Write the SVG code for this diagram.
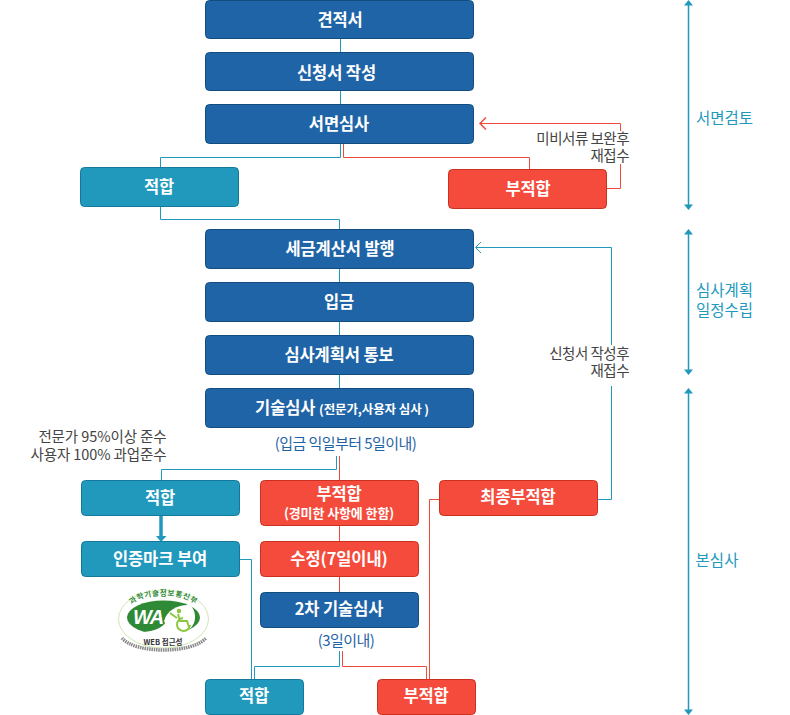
<svg xmlns="http://www.w3.org/2000/svg" width="790" height="715" viewBox="0 0 790 715">
<style>
text{font-family:"Noto Sans CJK KR","Noto Sans",sans-serif}
.b{fill:#1f64a6;stroke:#134d80}
.t{fill:#2199bc;stroke:#14789a}
.r{fill:#f54b3c;stroke:#c9301f}
.l{font-size:16.500px;font-weight:700;fill:#fff;text-anchor:middle;letter-spacing:-.1px}
.s{font-size:13px;font-weight:700;fill:#fff;text-anchor:middle;letter-spacing:-.1px}
.n{font-size:14.500px;fill:#444;text-anchor:end;letter-spacing:-.5px}
.d{font-size:15px;fill:#1f64a6;text-anchor:middle;letter-spacing:-.55px}
.p{font-size:15.500px;fill:#2199bc;text-anchor:middle}
.ct{fill:none;stroke:#2199bc;stroke-width:1}
.cr{fill:none;stroke:#f04b3c;stroke-width:1}
.sp{fill:none;stroke:#2199bc;stroke-width:1.5}
.hd{fill:#2199bc}
</style>
<g id="connectors">
<path class="ct" d="M340.500 38V52M340.500 91V104M340.500 143V157.500H160.500V167M160.500 206V219.500H339.500V229M339.500 268V282M339.500 321V335M339.500 374V388M336.500 456V469.500H161.500V480M240 559.500H251.500V679M339.500 651V666.500H254.500V679M597 499.500H611.500V386M611.500 345V247.500H476"/>
<path class="ct" d="M481 242L475.500 247.500L481 253" stroke-width="1.200"/>
<path class="cr" d="M343.500 143V157.500H529.500V169M606 188.500H620.500V164M620.500 131V123.500H480M339.500 456V480M339.500 525V541M339.500 576V592M342.500 651V666.500H426.500V679M429.500 679V499.500H439"/>
<path class="cr" d="M486 117.500L480 123.500L486 129.500" style="stroke-width:1.500"/>
<path d="M161 515V537" stroke="#2199bc" stroke-width="3.500" fill="none"/>
<path class="hd" d="M156 536H166.500L161 542Z"/>
<path class="sp" d="M688.500 3V207M688.500 232V372M688.500 391V712"/>
<path class="hd" d="M684 5.500H693L688.500 0ZM684 204.500H693L688.500 210ZM684 234.500H693L688.500 229ZM684 369.500H693L688.500 375ZM684 393.500H693L688.500 388ZM684 709.500H693L688.500 715Z"/>
</g>
<g id="n1"><rect class="b" x="205.500" y="0.500" width="268" height="38" rx="4"/><text class="l" x="340" y="26">견적서</text></g>
<g id="n2"><rect class="b" x="205.500" y="52.500" width="268" height="38" rx="4"/><text class="l" x="336.500" y="79">신청서 작성</text></g>
<g id="n3"><rect class="b" x="205.500" y="104.500" width="268" height="39" rx="4"/><text class="l" x="339" y="130">서면심사</text></g>
<g id="n4"><rect class="t" x="80.500" y="167.500" width="158" height="39" rx="4"/><text class="l" x="159" y="193">적합</text></g>
<g id="n5"><rect class="r" x="448.500" y="169.500" width="158" height="39" rx="4"/><text class="l" x="528" y="195">부적합</text></g>
<g id="n6"><rect class="b" x="205.500" y="229.500" width="268" height="39" rx="4"/><text class="l" x="340" y="255">세금계산서 발행</text></g>
<g id="n7"><rect class="b" x="205.500" y="282.500" width="268" height="39" rx="4"/><text class="l" x="339" y="308">입금</text></g>
<g id="n8"><rect class="b" x="205.500" y="335.500" width="268" height="39" rx="4"/><text class="l" x="339" y="361">심사계획서 통보</text></g>
<g id="n9"><rect class="b" x="205.500" y="388.500" width="268" height="39" rx="4"/><text class="l" x="342" y="414">기술심사 <tspan style="font-size:12.500px">(전문가,사용자 심사 )</tspan></text></g>
<g id="n10"><rect class="t" x="81.500" y="480.500" width="158" height="35" rx="4"/><text class="l" x="160" y="504">적합</text></g>
<g id="n11"><rect class="r" x="260.500" y="480.500" width="158" height="45" rx="4"/><text class="l" x="339" y="500">부적합</text><text class="s" x="339" y="518">(경미한 사항에 한함)</text></g>
<g id="n12"><rect class="r" x="439.500" y="480.500" width="158" height="35" rx="4"/><text class="l" x="518" y="503">최종부적합</text></g>
<g id="n13"><rect class="t" x="81.500" y="541.500" width="158" height="35" rx="4"/><text class="l" x="160" y="565">인증마크 부여</text></g>
<g id="n14"><rect class="r" x="260.500" y="541.500" width="158" height="35" rx="4"/><text class="l" x="339" y="565">수정(7일이내)</text></g>
<g id="n15"><rect class="b" x="260.500" y="592.500" width="158" height="35" rx="4"/><text class="l" x="339" y="615">2차 기술심사</text></g>
<g id="n16"><rect class="t" x="205.500" y="679.500" width="98" height="35" rx="4"/><text class="l" x="254" y="702">적합</text></g>
<g id="n17"><rect class="r" x="377.500" y="679.500" width="98" height="35" rx="4"/><text class="l" x="426" y="702">부적합</text></g>
<g id="notes">
<text class="n" x="629" y="144">미비서류 보완후</text><text class="n" x="629" y="161">재접수</text>
<text class="n" x="629" y="359">신청서 작성후</text><text class="n" x="629" y="376">재접수</text>
<text class="n" x="166.500" y="442" style="letter-spacing:-.1px">전문가 95%이상 준수</text><text class="n" x="166.500" y="460" style="letter-spacing:-.1px">사용자 100% 과업준수</text>
<text class="d" x="345.500" y="449">(입금 익일부터 5일이내)</text>
<text class="d" x="346" y="646">(3일이내)</text>
<text class="p" x="724.500" y="124">서면검토</text>
<text class="p" x="724.500" y="296">심사계획</text><text class="p" x="724.500" y="316">일정수립</text>
<text class="p" x="717" y="566">본심사</text>
</g>
<g id="logo">
<ellipse cx="163.500" cy="619" rx="45" ry="29" fill="#fff" stroke="#cfe6b0" stroke-width="1"/>
<ellipse cx="163.500" cy="617.500" rx="36.500" ry="17" fill="#2f8a35"/>
<path d="M164 621C167 609 180 604 190 605C197 611 197 625 188 630C178 633 168 631 164 621Z" fill="#fff"/>
<path d="M143 632C156 631 163 627 166 622C172 630 180 631 186 631C172 638 156 638 143 632Z" fill="#fff"/>
<text x="148" y="624" font-size="20" font-weight="700" font-style="italic" fill="#fff" text-anchor="middle" letter-spacing="-1" style="font-family:'Liberation Sans',sans-serif">WA</text>
<circle cx="179" cy="611" r="2.200" fill="#8cc63f"/>
<path d="M178 614L180 621H187L189 627M183 618A6.500 6.500 0 1 0 190 625M170 613L177 618" fill="none" stroke="#8cc63f" stroke-width="2"/>
<path id="arcA" d="M131 606C140 592 187 592 196 606" fill="none"/>
<text font-size="7.500" fill="#2f8a35" font-weight="700" text-anchor="middle" letter-spacing=".6"><textPath href="#arcA" startOffset="50%">과학기술정보통신부</textPath></text>
<text x="163" y="645" font-size="7.500" font-weight="700" fill="#333" text-anchor="middle">WEB 접근성</text>
<path d="M122 638C135 654 192 654 206 638" fill="none" stroke="#888" stroke-width="3.500" stroke-dasharray="1.500 .8"/>
</g>
</svg>
